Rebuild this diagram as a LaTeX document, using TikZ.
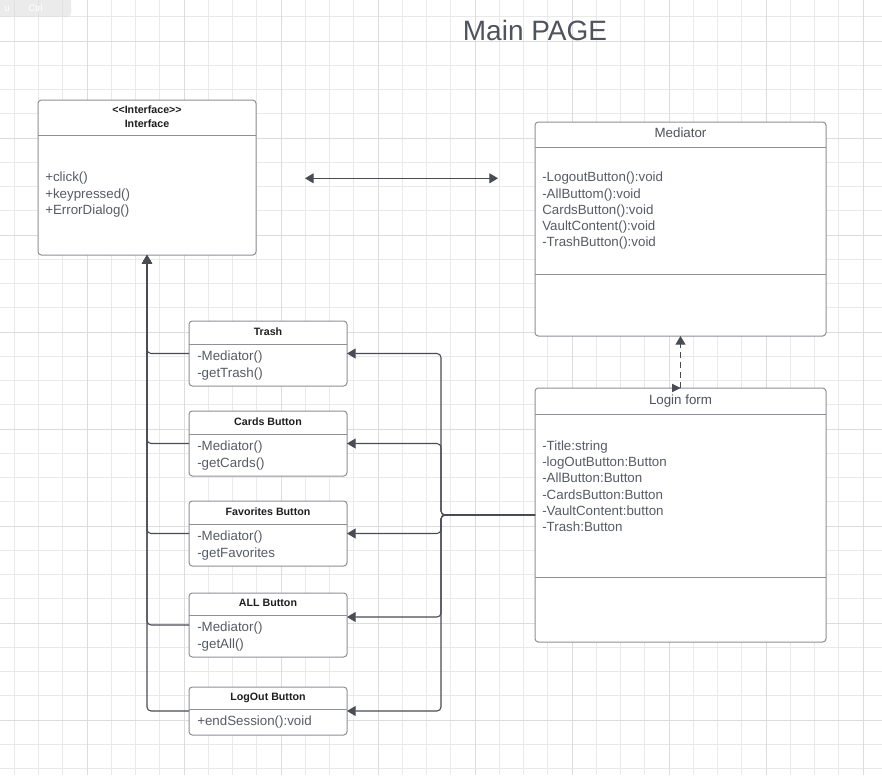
\documentclass[tikz,border=0pt]{standalone}
\usepackage{fontspec}
\setmainfont{Liberation Sans}
\usetikzlibrary{arrows.meta}
\definecolor{gridminor}{HTML}{E9E9E9}
\definecolor{gridmajor}{HTML}{DCDCDC}
\definecolor{boxline}{HTML}{8E9097}
\definecolor{memtext}{HTML}{575B65}
\definecolor{titletext}{HTML}{1E1E1E}
\definecolor{connline}{HTML}{494C55}
\definecolor{headtext}{HTML}{4F535D}
\definecolor{uigray}{HTML}{DCDCDC}
\begin{document}
\begin{tikzpicture}[x=0.75pt,y=-0.75pt,
  umlbox/.style={draw=boxline, fill=white, line width=0.75pt, rounded corners=2.5pt, inner sep=0pt, outer sep=0pt, anchor=north west},
  sepline/.style={draw=boxline, line width=0.75pt},
  members/.style={anchor=north west, inner sep=0pt, align=left, text=memtext, font=\fontsize{10}{12.2}\selectfont},
  smalltitle/.style={anchor=base, inner sep=0pt, text=titletext, font=\fontsize{8}{9.6}\selectfont\bfseries},
  boxtitle/.style={anchor=base, inner sep=0pt, text=headtext, font=\fontsize{10}{12}\selectfont},
  conn/.style={draw=connline, line width=0.8pt, rounded corners=3pt},
  tip/.style={-{Triangle[length=6.5pt,width=7.5pt]}},
  gridl/.style={draw=gridminor, line width=0.6pt},
  gridm/.style={draw=gridmajor, line width=0.75pt},
  uitext/.style={anchor=base west, inner sep=0pt, text=white, font=\fontsize{7}{8}\selectfont},
]
\useasboundingbox (0,0) rectangle (882,775);
\fill[white] (0,0) rectangle (882,775);
% background grid
\begin{scope}
\clip (0,0) rectangle (882,775);
\foreach \i in {0,...,37} {
  \draw[gridl] ({-10+24.25*\i},0) -- ({-10+24.25*\i},775);
  \draw[gridl] (0,{-56+24.25*\i}) -- (882,{-56+24.25*\i});
}
\foreach \i in {0,...,10} {
  \draw[gridm] ({-10+97*\i},0) -- ({-10+97*\i},775);
  \draw[gridm] (0,{-56+97*\i}) -- (882,{-56+97*\i});
}
% UI key hint remnant
\fill[uigray, fill opacity=0.55, rounded corners=3pt] (-6,-6) rectangle (71,17);
\end{scope}
\node[uitext] (uikey) at (4,11) {u};
\node[uitext] (uictrl) at (28,11) {Ctrl};

% title
\node[anchor=base, inner sep=0pt, text=headtext, font=\fontsize{21}{25}\selectfont] (maintitle) at (535,40) {Main PAGE};

% Interface
\node[umlbox, minimum width=163.5pt, minimum height=116.25pt] (iface) at (38,100) {};
\draw[sepline] (iface.west |- 0,135) -- (iface.east |- 0,135);
\node[smalltitle] (ifacest) at (147,113.3) {<\kern0pt<Interface>\kern0pt>};
\node[smalltitle] (ifacet) at (147,127) {Interface};
\node[members] (ifacem) at (45,170.1) {\strut+click()\\+keypressed()\\+ErrorDialog()};

% Mediator
\node[umlbox, minimum width=218.25pt, minimum height=160.5pt] (med) at (535,122) {};
\draw[sepline] (med.west |- 0,147) -- (med.east |- 0,147);
\draw[sepline] (med.west |- 0,274) -- (med.east |- 0,274);
\node[boxtitle] (medt) at (680.5,137.5) {Mediator};
\node[members] (medm) at (542,170.1) {\strut-LogoutButton():void\\-AllButtom():void\\CardsButton():void\\VaultContent():void\\-TrashButton():void};

% Login form
\node[umlbox, minimum width=218.25pt, minimum height=190.5pt] (login) at (535,388) {};
\draw[sepline] (login.west |- 0,414) -- (login.east |- 0,414);
\draw[sepline] (login.west |- 0,577) -- (login.east |- 0,577);
\node[boxtitle] (logint) at (680.5,404.3) {Login form};
\node[members] (loginm) at (542,438.6) {\strut-Title:string\\-logOutButton:Button\\-AllButton:Button\\-CardsButton:Button\\-VaultContent:button\\-Trash:Button};

% Trash
\node[umlbox, minimum width=118.5pt, minimum height=48.75pt] (trash) at (189,321) {};
\draw[sepline] (trash.west |- 0,344) -- (trash.east |- 0,344);
\node[smalltitle] (trasht) at (268,335.5) {Trash};
\node[members] (trashm) at (197,349.1) {\strut-Mediator()\\-getTrash()};

% Cards Button
\node[umlbox, minimum width=118.5pt, minimum height=48.75pt] (cards) at (189,411) {};
\draw[sepline] (cards.west |- 0,434) -- (cards.east |- 0,434);
\node[smalltitle] (cardst) at (268,425.3) {Cards Button};
\node[members] (cardsm) at (197,439.1) {\strut-Mediator()\\-getCards()};

% Favorites Button
\node[umlbox, minimum width=118.5pt, minimum height=48.75pt] (fav) at (189,501) {};
\draw[sepline] (fav.west |- 0,524) -- (fav.east |- 0,524);
\node[smalltitle] (favt) at (268,515.3) {Favorites Button};
\node[members] (favm) at (197,529.1) {\strut-Mediator()\\-getFavorites};

% ALL Button
\node[umlbox, minimum width=118.5pt, minimum height=48pt] (all) at (189,593) {};
\draw[sepline] (all.west |- 0,615) -- (all.east |- 0,615);
\node[smalltitle] (allt) at (268,606.7) {ALL Button};
\node[members] (allm) at (197,620.1) {\strut-Mediator()\\-getAll()};

% LogOut Button
\node[umlbox, minimum width=118.5pt, minimum height=36pt] (logout) at (189,687) {};
\draw[sepline] (logout.west |- 0,709) -- (logout.east |- 0,709);
\node[smalltitle] (logoutt) at (268,700.7) {LogOut Button};
\node[members] (logoutm) at (197,713.6) {\strut+endSession():void};

% double arrow
\coordinate (dl) at (305,178.3);
\coordinate (dr) at (498,178.3);
\draw[conn, {Triangle[length=6.5pt,width=7.5pt]}-{Triangle[length=6.5pt,width=7.5pt]}] (dl) -- (dr);

% realization connectors to Interface
\foreach \b in {logout,all,fav,cards,trash} {
  \draw[conn, tip] (\b.west) -| (iface.south);
}

% connectors from Login form
\coordinate (hub) at (441,515);
\draw[conn, tip] (login.west) -- (hub) |- (trash.east);
\draw[conn, tip] (login.west) -- (hub) |- (cards.east);
\draw[conn, tip] (login.west) -- (hub) |- (fav.east);
\draw[conn, tip] (login.west) -- (hub) |- ([yshift=6pt]all.east);
\draw[conn, tip] (login.west) -- (hub) |- (logout.east);

% dashed dependency Login form -> Mediator
\draw[conn, line width=0.7pt, dash pattern=on 4.5pt off 3pt, tip] (login.north) -- (med.south);
\fill[connline] (login.north) -- ++(-8.5,-4.3) -- ++(0,8.6) -- cycle;
\end{tikzpicture}
\end{document}
